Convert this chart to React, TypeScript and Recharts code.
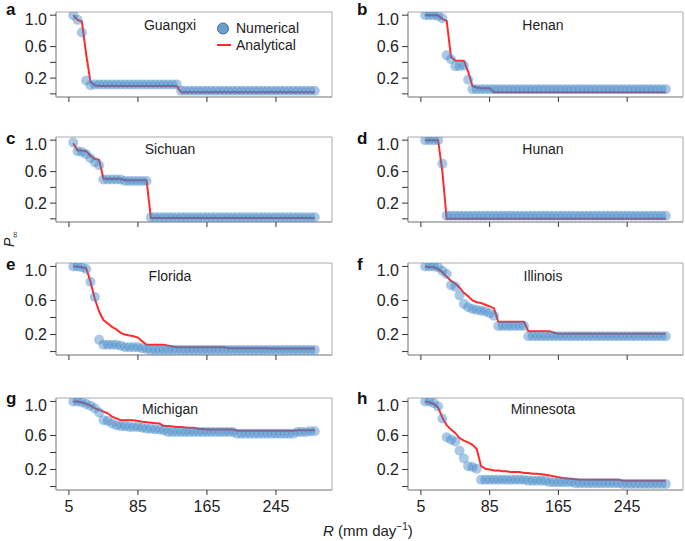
import React from "react";
import { ComposedChart, Line, Scatter, XAxis, YAxis, ReferenceArea } from "recharts";

const R_VALUES = [10, 15, 20, 25, 30, 35, 40, 45, 50, 55, 60, 65, 70, 75, 80, 85, 90, 95, 100, 105, 110, 115, 120, 125, 130, 135, 140, 145, 150, 155, 160, 165, 170, 175, 180, 185, 190, 195, 200, 205, 210, 215, 220, 225, 230, 235, 240, 245, 250, 255, 260, 265, 270, 275, 280, 285, 290];
const X_TICKS = [5, 85, 165, 245];
const Y_TICKS = [0, 0.2, 0.4, 0.6, 0.8, 1.0];
const Y_LABELED = [0.2, 0.6, 1.0];

// Guangxi
const guangxiNum = [
  1.0, 0.94, 0.78, 0.17, 0.11, 0.12, 0.12, 0.12, 0.12, 0.12,
  0.12, 0.12, 0.12, 0.12, 0.12, 0.12, 0.12, 0.12, 0.12, 0.12,
  0.12, 0.12, 0.12, 0.12, 0.12, 0.04, 0.04, 0.04, 0.04, 0.04,
  0.04, 0.04, 0.04, 0.04, 0.04, 0.04, 0.04, 0.04, 0.04, 0.04,
  0.04, 0.04, 0.04, 0.04, 0.04, 0.04, 0.04, 0.04, 0.04, 0.04,
  0.04, 0.04, 0.04, 0.04, 0.04, 0.04, 0.04,
];
const guangxiAna = [
  1.0, 0.94, 0.92, 0.5, 0.15, 0.11, 0.1, 0.1, 0.1, 0.1,
  0.1, 0.1, 0.1, 0.1, 0.1, 0.1, 0.1, 0.1, 0.1, 0.1,
  0.1, 0.1, 0.1, 0.1, 0.1, 0.02, 0.02, 0.02, 0.02, 0.02,
  0.02, 0.02, 0.02, 0.02, 0.02, 0.02, 0.02, 0.02, 0.02, 0.02,
  0.02, 0.02, 0.02, 0.02, 0.02, 0.02, 0.02, 0.02, 0.02, 0.02,
  0.02, 0.02, 0.02, 0.02, 0.02, 0.02, 0.02,
];

// Henan
const henanNum = [
  1.0, 1.0, 1.0, 0.99, 0.96, 0.49, 0.44, 0.35, 0.35, 0.36,
  0.18, 0.06, 0.06, 0.06, 0.06, 0.06, 0.06, 0.06, 0.06, 0.06,
  0.06, 0.06, 0.06, 0.06, 0.06, 0.06, 0.06, 0.06, 0.06, 0.06,
  0.06, 0.06, 0.06, 0.06, 0.06, 0.06, 0.06, 0.06, 0.06, 0.06,
  0.06, 0.06, 0.06, 0.06, 0.06, 0.06, 0.06, 0.06, 0.06, 0.06,
  0.06, 0.06, 0.06, 0.06, 0.06, 0.06, 0.06,
];
const henanAna = [
  1.0, 1.0, 1.0, 1.0, 0.95, 0.93, 0.47, 0.42, 0.42, 0.42,
  0.28, 0.1, 0.08, 0.07, 0.07, 0.07, 0.02, 0.02, 0.02, 0.02,
  0.02, 0.02, 0.02, 0.02, 0.02, 0.02, 0.02, 0.02, 0.02, 0.02,
  0.02, 0.02, 0.02, 0.02, 0.02, 0.02, 0.02, 0.02, 0.02, 0.02,
  0.02, 0.02, 0.02, 0.02, 0.02, 0.02, 0.02, 0.02, 0.02, 0.02,
  0.02, 0.02, 0.02, 0.02, 0.02, 0.02, 0.02,
];

// Sichuan
const sichuanNum = [
  0.97, 0.86, 0.85, 0.82, 0.77, 0.72, 0.68, 0.5, 0.5, 0.5,
  0.5, 0.5, 0.48, 0.48, 0.48, 0.48, 0.48, 0.48, 0.02, 0.02,
  0.02, 0.02, 0.02, 0.02, 0.02, 0.02, 0.02, 0.02, 0.02, 0.02,
  0.02, 0.02, 0.02, 0.02, 0.02, 0.02, 0.02, 0.02, 0.02, 0.02,
  0.02, 0.02, 0.02, 0.02, 0.02, 0.02, 0.02, 0.02, 0.02, 0.02,
  0.02, 0.02, 0.02, 0.02, 0.02, 0.02, 0.02,
];
const sichuanAna = [
  0.96, 0.87, 0.87, 0.86, 0.8, 0.76, 0.75, 0.51, 0.51, 0.51,
  0.51, 0.51, 0.49, 0.49, 0.49, 0.49, 0.49, 0.49, 0.01, 0.01,
  0.01, 0.01, 0.01, 0.01, 0.01, 0.01, 0.01, 0.01, 0.01, 0.01,
  0.01, 0.01, 0.01, 0.01, 0.01, 0.01, 0.01, 0.01, 0.01, 0.01,
  0.01, 0.01, 0.01, 0.01, 0.01, 0.01, 0.01, 0.01, 0.01, 0.01,
  0.01, 0.01, 0.01, 0.01, 0.01, 0.01, 0.01,
];

// Hunan
const hunanNum = [
  1.0, 1.0, 1.0, 1.0, 0.7, 0.04, 0.04, 0.04, 0.04, 0.04,
  0.04, 0.04, 0.04, 0.04, 0.04, 0.04, 0.04, 0.04, 0.04, 0.04,
  0.04, 0.04, 0.04, 0.04, 0.04, 0.04, 0.04, 0.04, 0.04, 0.04,
  0.04, 0.04, 0.04, 0.04, 0.04, 0.04, 0.04, 0.04, 0.04, 0.04,
  0.04, 0.04, 0.04, 0.04, 0.04, 0.04, 0.04, 0.04, 0.04, 0.04,
  0.04, 0.04, 0.04, 0.04, 0.04, 0.04, 0.04,
];
const hunanAna = [
  1.0, 1.0, 1.0, 1.0, 0.6, 0.0, 0.0, 0.0, 0.0, 0.0,
  0.0, 0.0, 0.0, 0.0, 0.0, 0.0, 0.0, 0.0, 0.0, 0.0,
  0.0, 0.0, 0.0, 0.0, 0.0, 0.0, 0.0, 0.0, 0.0, 0.0,
  0.0, 0.0, 0.0, 0.0, 0.0, 0.0, 0.0, 0.0, 0.0, 0.0,
  0.0, 0.0, 0.0, 0.0, 0.0, 0.0, 0.0, 0.0, 0.0, 0.0,
  0.0, 0.0, 0.0, 0.0, 0.0, 0.0, 0.0,
];

// Florida
const floridaNum = [
  1.0, 1.0, 0.99, 0.97, 0.82, 0.64, 0.14, 0.08, 0.08, 0.08,
  0.08, 0.07, 0.05, 0.05, 0.05, 0.05, 0.04, 0.03, 0.02, 0.02,
  0.02, 0.02, 0.02, 0.02, 0.02, 0.02, 0.02, 0.02, 0.02, 0.02,
  0.02, 0.02, 0.02, 0.02, 0.02, 0.02, 0.02, 0.02, 0.02, 0.02,
  0.02, 0.02, 0.02, 0.02, 0.02, 0.02, 0.02, 0.02, 0.02, 0.02,
  0.02, 0.02, 0.02, 0.02, 0.02, 0.02, 0.02,
];
const floridaAna = [
  1.0, 1.0, 0.99, 0.98, 0.82, 0.62, 0.47, 0.37, 0.33, 0.29,
  0.26, 0.22, 0.2, 0.19, 0.18, 0.165, 0.12, 0.08, 0.08, 0.08,
  0.08, 0.08, 0.07, 0.06, 0.05, 0.05, 0.05, 0.05, 0.05, 0.05,
  0.05, 0.05, 0.05, 0.05, 0.05, 0.05, 0.04, 0.04, 0.04, 0.04,
  0.04, 0.04, 0.04, 0.04, 0.04, 0.04, 0.035, 0.035, 0.035, 0.035,
  0.035, 0.035, 0.035, 0.035, 0.035, 0.035, 0.035,
];

// Illinois
const illinoisNum = [
  1.0, 1.0, 1.0, 0.99, 0.95, 0.91, 0.78, 0.76, 0.66, 0.56,
  0.52, 0.5, 0.49, 0.48, 0.47, 0.45, 0.42, 0.3, 0.3, 0.3,
  0.3, 0.3, 0.3, 0.3, 0.18, 0.18, 0.18, 0.18, 0.18, 0.18,
  0.18, 0.18, 0.18, 0.18, 0.18, 0.18, 0.18, 0.18, 0.18, 0.18,
  0.18, 0.18, 0.18, 0.18, 0.18, 0.18, 0.18, 0.18, 0.18, 0.18,
  0.18, 0.18, 0.18, 0.18, 0.18, 0.18, 0.18,
];
const illinoisAna = [
  1.0, 0.99, 0.99, 0.97, 0.93, 0.88, 0.83, 0.8, 0.75, 0.69,
  0.65, 0.6, 0.58, 0.57, 0.55, 0.53, 0.51, 0.35, 0.35, 0.35,
  0.35, 0.35, 0.35, 0.35, 0.24, 0.24, 0.24, 0.24, 0.24, 0.24,
  0.22, 0.21, 0.21, 0.21, 0.21, 0.21, 0.21, 0.21, 0.21, 0.21,
  0.21, 0.21, 0.21, 0.21, 0.21, 0.21, 0.21, 0.21, 0.21, 0.21,
  0.21, 0.21, 0.21, 0.21, 0.21, 0.21, 0.21,
];

// Michigan
const michiganNum = [
  1.0, 1.0, 0.99, 0.97, 0.95, 0.92, 0.87, 0.78, 0.77, 0.74,
  0.72, 0.71, 0.71, 0.7, 0.7, 0.7, 0.69, 0.68, 0.68, 0.67,
  0.67, 0.66, 0.64, 0.64, 0.64, 0.64, 0.64, 0.64, 0.64, 0.64,
  0.64, 0.64, 0.64, 0.64, 0.64, 0.64, 0.64, 0.64, 0.62, 0.62,
  0.62, 0.62, 0.62, 0.62, 0.62, 0.62, 0.62, 0.62, 0.62, 0.62,
  0.62, 0.62, 0.64, 0.64, 0.64, 0.65, 0.65,
];
const michiganAna = [
  1.0, 1.0, 0.99, 0.97, 0.95, 0.92, 0.9, 0.88, 0.86, 0.82,
  0.8, 0.78, 0.78, 0.78, 0.78, 0.77, 0.76, 0.755, 0.75, 0.745,
  0.74, 0.71, 0.71, 0.705, 0.7, 0.7, 0.695, 0.69, 0.69, 0.68,
  0.675, 0.67, 0.67, 0.67, 0.67, 0.67, 0.67, 0.67, 0.655, 0.655,
  0.655, 0.655, 0.655, 0.655, 0.655, 0.655, 0.655, 0.655, 0.655, 0.655,
  0.655, 0.655, 0.66, 0.66, 0.66, 0.66, 0.66,
];

// Minnesota
const minnesotaNum = [
  1.0, 1.0, 0.98, 0.94, 0.8, 0.58, 0.55, 0.53, 0.42, 0.33,
  0.24, 0.23, 0.21, 0.08, 0.08, 0.08, 0.08, 0.08, 0.08, 0.08,
  0.08, 0.08, 0.08, 0.08, 0.07, 0.07, 0.07, 0.07, 0.07, 0.05,
  0.05, 0.05, 0.05, 0.05, 0.05, 0.04, 0.04, 0.04, 0.04, 0.04,
  0.04, 0.04, 0.04, 0.04, 0.04, 0.04, 0.03, 0.03, 0.03, 0.03,
  0.03, 0.03, 0.03, 0.03, 0.03, 0.03, 0.03,
];
const minnesotaAna = [
  1.0, 0.99, 0.97, 0.93, 0.81, 0.72, 0.67, 0.63, 0.57, 0.54,
  0.52, 0.49, 0.44, 0.24, 0.21, 0.2, 0.19, 0.19, 0.18, 0.18,
  0.17, 0.17, 0.17, 0.16, 0.16, 0.15, 0.15, 0.145, 0.14, 0.13,
  0.12, 0.11, 0.1, 0.095, 0.09, 0.085, 0.08, 0.08, 0.08, 0.08,
  0.08, 0.08, 0.08, 0.08, 0.08, 0.08, 0.07, 0.07, 0.07, 0.07,
  0.07, 0.07, 0.07, 0.07, 0.07, 0.07, 0.07,
];

const FONT = "'Liberation Sans', Arial, Helvetica, sans-serif";
const DOT_FILL = "#3d86c6";
const RED = "#ff2a2a";

const Dot = (p: any) => <circle cx={p.cx} cy={p.cy} r={5} fill={DOT_FILL} fillOpacity={0.45} />;

type PanelProps = {
  left: number;
  top: number;
  w: number;
  h: number;
  num: number[];
  ana: number[];
  showX: boolean;
};

function Panel({ left, top, w, h, num, ana, showX }: PanelProps) {
  const data = R_VALUES.map((r, i) => ({ r, num: num[i], ana: ana[i] }));
  const yW = 50;
  const xH = showX ? 30 : 8;
  const mt = 2;
  return (
    <div style={{ position: "absolute", left: left - yW, top: top - mt }}>
      <ComposedChart width={yW + w + 2} height={mt + h + xH} data={data} margin={{ top: mt, right: 2, bottom: 0, left: 0 }}>
        <XAxis
          type="number"
          dataKey="r"
          domain={[-10, 310]}
          ticks={X_TICKS}
          height={xH}
          tickSize={5}
          tickMargin={6}
          tickFormatter={(v) => (showX ? String(v) : "")}
          tick={{ fill: "#222", fontSize: 16, fontFamily: FONT }}
          axisLine={{ stroke: "#999" }}
          tickLine={{ stroke: "#333" }}
          allowDataOverflow
        />
        <YAxis
          type="number"
          domain={[-0.04, 1.04]}
          ticks={Y_TICKS}
          width={yW}
          tickSize={6}
          tickMargin={3}
          tickFormatter={(v) => (Y_LABELED.some((t) => Math.abs(t - v) < 1e-6) ? v.toFixed(1) : "")}
          tick={{ fill: "#222", fontSize: 16, fontFamily: FONT }}
          axisLine={{ stroke: "#999" }}
          tickLine={{ stroke: "#333" }}
          allowDataOverflow
        />
        <ReferenceArea x1={-10} x2={310} y1={-0.04} y2={1.04} fill="none" fillOpacity={0} stroke="#aaa" strokeWidth={1} />
        <Scatter dataKey="num" shape={Dot} isAnimationActive={false} />
        <Line type="linear" dataKey="ana" stroke={RED} strokeWidth={2} dot={false} isAnimationActive={false} />
      </ComposedChart>
    </div>
  );
}

const LEFT = 56;
const RIGHT = 408;
const ROWS = [
  { top: 12, h: 85 },
  { top: 137, h: 85 },
  { top: 263, h: 92 },
  { top: 398, h: 92 },
];

const PANELS = [
  { letter: "a", title: "Guangxi", col: 0, row: 0, num: guangxiNum, ana: guangxiAna },
  { letter: "b", title: "Henan", col: 1, row: 0, num: henanNum, ana: henanAna },
  { letter: "c", title: "Sichuan", col: 0, row: 1, num: sichuanNum, ana: sichuanAna },
  { letter: "d", title: "Hunan", col: 1, row: 1, num: hunanNum, ana: hunanAna },
  { letter: "e", title: "Florida", col: 0, row: 2, num: floridaNum, ana: floridaAna },
  { letter: "f", title: "Illinois", col: 1, row: 2, num: illinoisNum, ana: illinoisAna },
  { letter: "g", title: "Michigan", col: 0, row: 3, num: michiganNum, ana: michiganAna },
  { letter: "h", title: "Minnesota", col: 1, row: 3, num: minnesotaNum, ana: minnesotaAna },
];

const LETTER_Y = [15, 144, 270, 404];
const TITLE_Y = [29.5, 154, 281, 413.5];

export default function App() {
  return (
    <div style={{ position: "absolute", left: 0, top: 0, width: 685, height: 541, background: "#fff", fontFamily: FONT }}>
      {PANELS.map((p) => (
        <Panel
          key={p.letter}
          left={p.col === 0 ? LEFT : RIGHT}
          top={ROWS[p.row].top}
          w={p.col === 0 ? 276 : 275}
          h={ROWS[p.row].h}
          num={p.num}
          ana={p.ana}
          showX={p.row === 3}
        />
      ))}
      <svg width={685} height={541} style={{ position: "absolute", left: 0, top: 0, pointerEvents: "none" }} fontFamily={FONT}>
        {PANELS.map((p) => (
          <g key={p.letter}>
            <text x={p.col === 0 ? 6 : 357} y={LETTER_Y[p.row]} fontSize={17} fontWeight="bold" fill="#111">
              {p.letter}
            </text>
            <text x={p.col === 0 ? 170 : 543} y={TITLE_Y[p.row]} fontSize={14} textAnchor="middle" fill="#222">
              {p.title}
            </text>
          </g>
        ))}
        <circle cx={223} cy={28.5} r={5.5} fill="#6b9ecb" stroke="#3f6e99" strokeWidth={1} />
        <text x={236} y={33} fontSize={14} fill="#222">Numerical</text>
        <line x1={217} x2={231} y1={45} y2={45} stroke={RED} strokeWidth={2} />
        <text x={236} y={49.5} fontSize={14} fill="#222">Analytical</text>
        <text x={323} y={536} fontSize={15} fill="#222">
          <tspan fontStyle="italic">R</tspan>
          <tspan> (mm day</tspan>
          <tspan fontSize={10} dy={-6}>−1</tspan>
          <tspan dy={6}>)</tspan>
        </text>
        <text transform="translate(14,247) rotate(-90)" fontSize={14} fill="#222">
          <tspan fontStyle="italic">P</tspan>
          <tspan fontSize={9} dy={4}>∞</tspan>
        </text>
      </svg>
    </div>
  );
}
